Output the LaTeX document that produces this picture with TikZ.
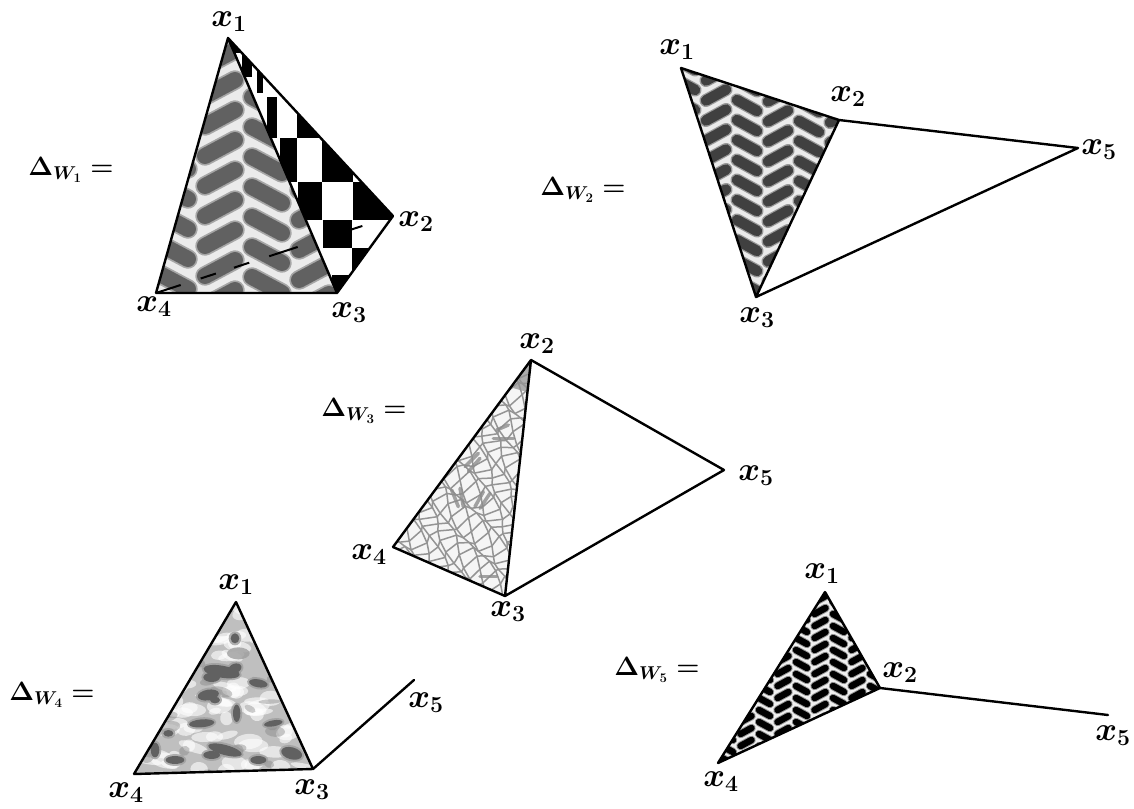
\RequirePackage{fix-cm}
\documentclass[tikz,border=0pt]{standalone}
\newcommand{\herring}[8]{% x0 y0 dx s dy hx hy style
  \foreach \ci in {-8,...,8}{
    \foreach \cj in {-14,...,14}{
      \pgfmathsetmacro{\cx}{#1+\ci*#3}
      \pgfmathsetmacro{\cy}{#2+\ci*#4+\cj*#5}
      \ifodd\ci
        \draw[#8] (\cx-#6,\cy-#7) -- (\cx+#6,\cy+#7);
      \else
        \draw[#8] (\cx-#6,\cy+#7) -- (\cx+#6,\cy-#7);
      \fi
    }
  }
}
\tikzset{
  edge/.style={draw=black,line width=2.4pt,line cap=round,line join=round},
  hidden/.style={draw=black,line width=2pt,dash pattern=on 26pt off 21pt on 16pt off 19pt on 16pt off 21pt on 30pt off 54pt on 14pt off 40pt},
  vlabel/.style={inner sep=0pt,font=\fontsize{33}{36}\selectfont\boldmath},
  dlabel/.style={inner sep=0pt,font=\fontsize{26.5}{30}\selectfont\boldmath},
  crack/.style={draw=black!42,line width=1.5pt,line cap=round},
  crackb/.style={draw=black!45,line width=3.5pt,line cap=round,opacity=.8},
}
\begin{document}
\begin{tikzpicture}[x=1pt,y=-1pt]
\useasboundingbox[fill=white] (0,0) rectangle (1134,808);
% ---------- W1
\coordinate (A1) at (228,38);
\coordinate (A2) at (393,216);
\coordinate (A3) at (337,293);
\coordinate (A4) at (156,293);
\begin{scope}
  \clip (A1)--(A2)--(A3)--cycle;
  \fill[white] (130,10) rectangle (440,330);
  \begin{scope}[shift={(130,10)},x=0.3333pt,y=-0.3333pt]
    \fill[black] (295,80) rectangle (345,130);
    \fill[black] (335,130) rectangle (365,200);
    \fill[black] (380,170) rectangle (400,250);
    \fill[black] (410,260) rectangle (440,385);
    \fill[black] (500,260) rectangle (570,385);
    \fill[black] (450,385) rectangle (500,515);
    \fill[black] (575,385) rectangle (670,515);
    \fill[black] (505,515) rectangle (575,630);
    \fill[black] (670,515) rectangle (800,630);
    \fill[black] (580,630) rectangle (665,715);
    \fill[black] (665,715) rectangle (730,795);
    \fill[black] (605,795) rectangle (665,850);
  \end{scope}
\end{scope}
\begin{scope}
  \clip (A1)--(A3)--(A4)--cycle;
  \fill[black!8] (130,10) rectangle (440,330);
  \herring{220}{148}{47}{17}{30}{15}{8}{line cap=round,line width=19.5pt,draw=black!35}
  \herring{220}{148}{47}{17}{30}{15}{8}{line cap=round,line width=16pt,draw=black!62}
\end{scope}
\draw[hidden] (A4) -- (A2);
\draw[edge] (A1)--(A2) (A1)--(A3) (A1)--(A4) (A4)--(A3) (A3)--(A2);
\node[vlabel] (l11) at (229,22) {$x_1$};
\node[vlabel] (l12) at (416,222) {$x_2$};
\node[vlabel] (l13) at (349,313) {$x_3$};
\node[vlabel] (l14) at (154,307) {$x_4$};
\node[dlabel] (d1) at (71,170) {$\Delta_{W_1}=$};
% ---------- W2
\coordinate (B1) at (681,68);
\coordinate (B2) at (839,120);
\coordinate (B3) at (756,297);
\coordinate (B5) at (1078,148);
\begin{scope}
  \clip (B1)--(B2)--(B3)--cycle;
  \fill[black!8] (660,40) rectangle (860,310);
  \herring{716}{95}{31}{10.5}{20}{10}{5.5}{line cap=round,line width=13pt,draw=black!40}
  \herring{716}{95}{31}{10.5}{20}{10}{5.5}{line cap=round,line width=10.5pt,draw=black!75}
\end{scope}
\draw[edge] (B1)--(B2) (B2)--(B3) (B3)--(B1) (B2)--(B5) (B3)--(B5);
\node[vlabel] (l21) at (677,50) {$x_1$};
\node[vlabel] (l22) at (848,97) {$x_2$};
\node[vlabel] (l23) at (757,318) {$x_3$};
\node[vlabel] (l25) at (1099,150) {$x_5$};
\node[dlabel] (d2) at (583,190) {$\Delta_{W_2}=$};
% ---------- W3
\coordinate (C2) at (531,360);
\coordinate (C3) at (505,596);
\coordinate (C4) at (393,547);
\coordinate (C5) at (724,470);
\begin{scope}
  \clip (C2)--(C3)--(C4)--cycle;
  \fill[black!4] (380,350) rectangle (550,610);
  \fill[black!32] (531,360) -- (513,388) -- (527,392) -- cycle;
  \begin{scope}[shift={(460,480)},rotate=25]
    \foreach \gi in {-15,...,15}{
      \foreach \gj in {-15,...,15}{
        \pgfmathsetmacro{\pxa}{\gi*10+4*sin(\gi*137+\gj*311)}
        \pgfmathsetmacro{\pya}{\gj*10+4*sin(\gi*271+\gj*59)}
        \pgfmathsetmacro{\pxb}{(\gi+1)*10+4*sin((\gi+1)*137+\gj*311)}
        \pgfmathsetmacro{\pyb}{\gj*10+4*sin((\gi+1)*271+\gj*59)}
        \pgfmathsetmacro{\pxc}{\gi*10+4*sin(\gi*137+(\gj+1)*311)}
        \pgfmathsetmacro{\pyc}{(\gj+1)*10+4*sin(\gi*271+(\gj+1)*59)}
        \draw[crack] (\pxa,\pya) -- (\pxb,\pyb);
        \draw[crack] (\pxa,\pya) -- (\pxc,\pyc);
      }
    }
  \end{scope}
  \begin{scope}[shift={(380,350)},x=0.3333pt,y=-0.3333pt]
    \draw[crackb] (215,420) -- (235,470);
    \draw[crackb] (240,415) -- (250,470);
    \draw[crackb] (285,470) -- (310,425);
    \draw[crackb] (300,475) -- (330,430);
    \draw[crackb] (255,350) -- (295,310);
    \draw[crackb] (265,365) -- (300,325);
    \draw[crackb] (340,265) -- (400,265);
    \draw[crackb] (350,240) -- (385,225);
    \draw[crackb] (300,680) -- (350,680);
  \end{scope}
\end{scope}
\draw[edge] (C2)--(C3) (C3)--(C4) (C4)--(C2) (C2)--(C5) (C3)--(C5);
\node[vlabel] (l32) at (537,344) {$x_2$};
\node[vlabel] (l33) at (508,612) {$x_3$};
\node[vlabel] (l34) at (369,555) {$x_4$};
\node[vlabel] (l35) at (756,476) {$x_5$};
\node[dlabel] (d3) at (364,411) {$\Delta_{W_3}=$};
% ---------- W4
\coordinate (D1) at (236,602);
\coordinate (D3) at (313,769);
\coordinate (D4) at (134,774);
\coordinate (D5) at (414,680);
\begin{scope}
  \clip (D1)--(D3)--(D4)--cycle;
  \fill[black!25] (125,590) rectangle (325,780);
  \pgfmathsetseed{11}
  \foreach \k in {1,...,110}{
    \pgfmathsetmacro{\sx}{135+175*rnd}
    \pgfmathsetmacro{\sy}{605+170*rnd}
    \pgfmathsetmacro{\ra}{6+10*rnd}
    \pgfmathsetmacro{\rb}{3+5*rnd}
    \pgfmathsetmacro{\an}{40*rnd-20}
    \fill[white,opacity=.6,rotate around={\an:(\sx,\sy)}] (\sx,\sy) ellipse[x radius=\ra,y radius=\rb];
  }
  \foreach \k in {1,...,30}{
    \pgfmathsetmacro{\sx}{135+175*rnd}
    \pgfmathsetmacro{\sy}{605+170*rnd}
    \pgfmathsetmacro{\ra}{4+8*rnd}
    \pgfmathsetmacro{\rb}{2+4*rnd}
    \pgfmathsetmacro{\an}{60*rnd-30}
    \fill[black!50,opacity=.4,rotate around={\an:(\sx,\sy)}] (\sx,\sy) ellipse[x radius=\ra,y radius=\rb];
  }
  \begin{scope}[shift={(125,590)},x=0.3333pt,y=-0.3333pt]
    \foreach \ex/\ey/\ea/\eb/\er in {290/245/55/18/-10, 260/262/25/14/0, 330/235/20/14/20, 250/315/32/16/10, 270/330/15/10/0,
      400/280/28/12/-10, 330/145/13/15/0, 335/370/11/26/0, 230/400/38/12/5, 300/480/52/15/-15, 260/495/25/12/0,
      500/490/32/18/-15, 150/510/28/12/0, 90/480/13/22/0, 445/400/28/9/10, 400/510/24/12/0, 130/430/15/10/0, 340/190/28/12/0}{
      \fill[black!38,opacity=.8,rotate around={\er:(\ex,\ey)}] (\ex,\ey) ellipse[x radius={\ea+6},y radius={\eb+6}];
    }
    \foreach \ex/\ey/\ea/\eb/\er in {290/245/55/18/-10, 260/262/25/14/0, 330/235/20/14/20, 250/315/32/16/10, 270/330/15/10/0,
      400/280/28/12/-10, 330/145/13/15/0, 335/370/11/26/0, 230/400/38/12/5, 300/480/52/15/-15, 260/495/25/12/0,
      500/490/32/18/-15, 150/510/28/12/0, 90/480/13/22/0, 445/400/28/9/10, 400/510/24/12/0, 130/430/15/10/0}{
      \fill[black!62,rotate around={\er:(\ex,\ey)}] (\ex,\ey) ellipse[x radius=\ea,y radius=\eb];
    }
  \end{scope}
\end{scope}
\draw[edge] (D1)--(D3) (D3)--(D4) (D4)--(D1) (D3)--(D5);
\node[vlabel] (l41) at (236,585) {$x_1$};
\node[vlabel] (l43) at (312,790) {$x_3$};
\node[vlabel] (l44) at (126,793) {$x_4$};
\node[vlabel] (l45) at (426,703) {$x_5$};
\node[dlabel] (d4) at (52,695) {$\Delta_{W_4}=$};
% ---------- W5
\coordinate (E1) at (825,592);
\coordinate (E2) at (880,688);
\coordinate (E4) at (718,763);
\coordinate (E5) at (1108,715);
\begin{scope}
  \clip (E1)--(E2)--(E4)--cycle;
  \fill[black!6] (710,585) rectangle (890,770);
  \herring{820}{635}{18.5}{6}{12}{5.5}{3}{line cap=round,line width=8.5pt,draw=black!40}
  \herring{820}{635}{18.5}{6}{12}{5.5}{3}{line cap=round,line width=6.5pt,draw=black}
\end{scope}
\draw[edge] (E1)--(E2) (E2)--(E4) (E4)--(E1) (E2)--(E5);
\node[vlabel] (l51) at (822,574) {$x_1$};
\node[vlabel] (l52) at (900,673) {$x_2$};
\node[vlabel] (l54) at (721,782) {$x_4$};
\node[vlabel] (l55) at (1113,736) {$x_5$};
\node[dlabel] (d5) at (657,670) {$\Delta_{W_5}=$};
\end{tikzpicture}
\end{document}
